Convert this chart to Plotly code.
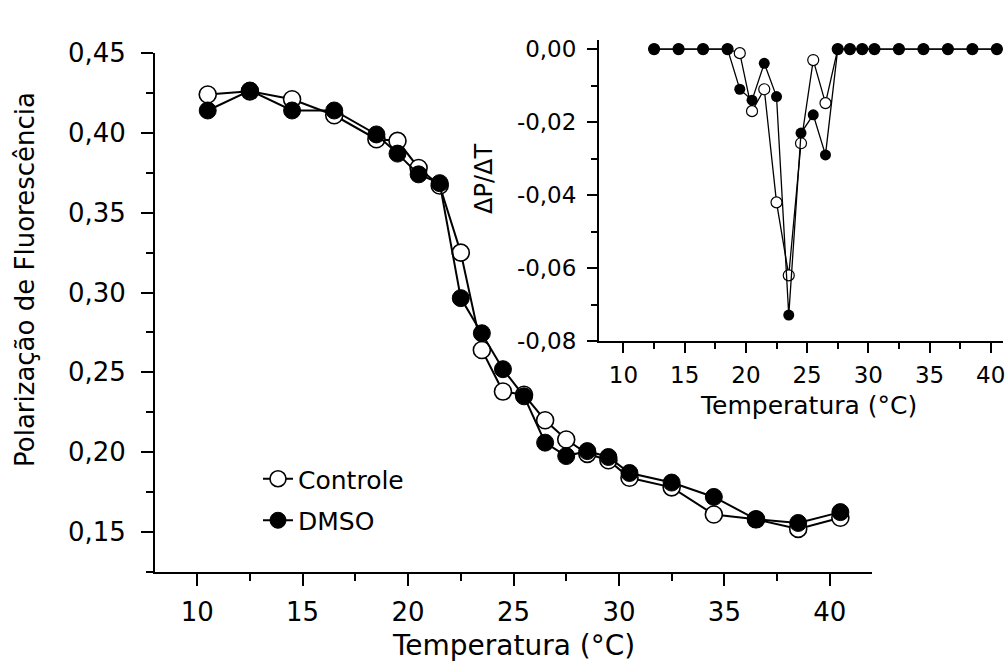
import plotly.graph_objects as go

# ---------------- data ----------------
temp_main = [10.5, 12.5, 14.5, 16.5, 18.5, 19.5, 20.5, 21.5, 22.5, 23.5, 24.5,
             25.5, 26.5, 27.5, 28.5, 29.5, 30.5, 32.5, 34.5, 36.5, 38.5, 40.5]
controle_pol = [0.424, 0.426, 0.421, 0.411, 0.396, 0.395, 0.378, 0.367, 0.325, 0.264, 0.238,
                0.236, 0.220, 0.208, 0.199, 0.195, 0.184, 0.178, 0.161, 0.158, 0.152, 0.159]
dmso_pol = [0.414, 0.4265, 0.414, 0.414, 0.399, 0.387, 0.374, 0.3685, 0.2965, 0.2745, 0.252,
            0.235, 0.206, 0.1976, 0.2007, 0.197, 0.187, 0.181, 0.172, 0.158, 0.1557, 0.1625]

temp_inset = [12.5, 14.5, 16.5, 18.5, 19.5, 20.5, 21.5, 22.5, 23.5, 24.5, 25.5,
              26.5, 27.5, 28.5, 29.5, 30.5, 32.5, 34.5, 36.5, 38.5, 40.5]
controle_dpdt = [0, 0, 0, 0, -0.0011, -0.017, -0.011, -0.042, -0.062, -0.0258, -0.003,
                 -0.0148, 0, 0, 0, 0, 0, 0, 0, 0, 0]
dmso_dpdt = [0, 0, 0, 0, -0.011, -0.014, -0.0039, -0.013, -0.0729, -0.023, -0.018,
             -0.029, 0, 0, 0, 0, 0, 0, 0, 0, 0]

series_names = ["Controle", "DMSO"]

main_y_ticks = [0.15, 0.20, 0.25, 0.30, 0.35, 0.40, 0.45]
main_y_labels = ["0,15", "0,20", "0,25", "0,30", "0,35", "0,40", "0,45"]
x_ticks = [10, 15, 20, 25, 30, 35, 40]
x_labels = ["10", "15", "20", "25", "30", "35", "40"]
inset_y_ticks = [-0.08, -0.06, -0.04, -0.02, 0.0]
inset_y_labels = ["-0,08", "-0,06", "-0,04", "-0,02", "0,00"]

x_title = "Temperatura (°C)"
y_title = "Polarização de Fluorescência"
inset_y_title = "ΔP/ΔT"

FONT = "DejaVu Sans"
W, H = 1008, 664

fig = go.Figure()

# main traces
fig.add_trace(go.Scatter(
    x=temp_main, y=controle_pol, mode="lines+markers", name=series_names[0],
    legendgroup="c",
    line=dict(color="black", width=2),
    marker=dict(symbol="circle", size=17, color="white", line=dict(color="black", width=1.6)),
    xaxis="x", yaxis="y"))
fig.add_trace(go.Scatter(
    x=temp_main, y=dmso_pol, mode="lines+markers", name=series_names[1],
    legendgroup="d",
    line=dict(color="black", width=2),
    marker=dict(symbol="circle", size=17, color="black", line=dict(color="black", width=1)),
    xaxis="x", yaxis="y"))

# inset traces
fig.add_trace(go.Scatter(
    x=temp_inset, y=controle_dpdt, mode="lines+markers", name=series_names[0], showlegend=False,
    legendgroup="c",
    line=dict(color="black", width=1.3),
    marker=dict(symbol="circle", size=11, color="white", line=dict(color="black", width=1.2)),
    xaxis="x2", yaxis="y2"))
fig.add_trace(go.Scatter(
    x=temp_inset, y=dmso_dpdt, mode="lines+markers", name=series_names[1], showlegend=False,
    legendgroup="d",
    line=dict(color="black", width=1.3),
    marker=dict(symbol="circle", size=11, color="black"),
    xaxis="x2", yaxis="y2"))

axis_common = dict(showgrid=False, zeroline=False, showline=True, linecolor="black",
                   linewidth=2, ticks="outside", tickcolor="black", tickwidth=2,
                   mirror=False, automargin=False)

fig.update_layout(
    template="none",
    width=W, height=H,
    margin=dict(l=0, r=0, t=0, b=0, pad=0, autoexpand=False),
    paper_bgcolor="white", plot_bgcolor="white",
    font=dict(family=FONT, color="black"),
    showlegend=True,
    xaxis=dict(domain=[155 / W, 872 / W], range=[8, 42], anchor="y",
               tickvals=x_ticks, ticktext=x_labels, ticklen=12,
               tickfont=dict(size=26), ticklabelstandoff=4,
               minor=dict(tick0=10, dtick=2.5, ticklen=7, tickwidth=2, tickcolor="black", ticks="outside"),
               **axis_common),
    yaxis=dict(domain=[(H - 572) / H, (H - 53) / H], range=[0.125, 0.45], anchor="x",
               tickvals=main_y_ticks, ticktext=main_y_labels, ticklen=12,
               tickfont=dict(size=26), ticklabelstandoff=10,
               minor=dict(tick0=0.125, dtick=0.025, ticklen=7, tickwidth=2, tickcolor="black", ticks="outside"),
               **axis_common),
    xaxis2=dict(domain=[599 / W, 1003 / W], range=[8, 41], anchor="y2",
                tickvals=x_ticks, ticktext=x_labels, ticklen=10,
                tickfont=dict(size=23), ticklabelstandoff=2,
                minor=dict(tick0=10, dtick=2.5, ticklen=6, tickwidth=2, tickcolor="black", ticks="outside"),
                **axis_common),
    yaxis2=dict(domain=[(H - 341) / H, (H - 40) / H], range=[-0.08, 0.0025], anchor="x2",
                tickvals=inset_y_ticks, ticktext=inset_y_labels, ticklen=10,
                tickfont=dict(size=23), ticklabelstandoff=6,
                minor=dict(tick0=-0.08, dtick=0.01, ticklen=6, tickwidth=2, tickcolor="black", ticks="outside"),
                **axis_common),
    legend=dict(x=258 / W, y=(H - 456) / H, xanchor="left", yanchor="top",
                bgcolor="rgba(0,0,0,0)", font=dict(size=25, family=FONT),
                traceorder="grouped", tracegroupgap=6),
    annotations=[
        dict(text=x_title, x=513.5 / W, y=(H - 645) / H, xref="paper", yref="paper",
             xanchor="center", yanchor="middle", showarrow=False, font=dict(size=28)),
        dict(text=y_title, x=25 / W, y=(H - 280) / H, xref="paper", yref="paper",
             xanchor="center", yanchor="middle", showarrow=False, textangle=-90,
             font=dict(size=26)),
        dict(text=x_title, x=808 / W, y=(H - 405) / H, xref="paper", yref="paper",
             xanchor="center", yanchor="middle", showarrow=False, font=dict(size=25)),
        dict(text=inset_y_title, x=484 / W, y=(H - 179) / H, xref="paper", yref="paper",
             xanchor="center", yanchor="middle", showarrow=False, textangle=-90,
             font=dict(size=24)),
    ],
)

fig.write_html("out.html", config={"displayModeBar": False},
               post_script="document.body.style.margin='0';")
